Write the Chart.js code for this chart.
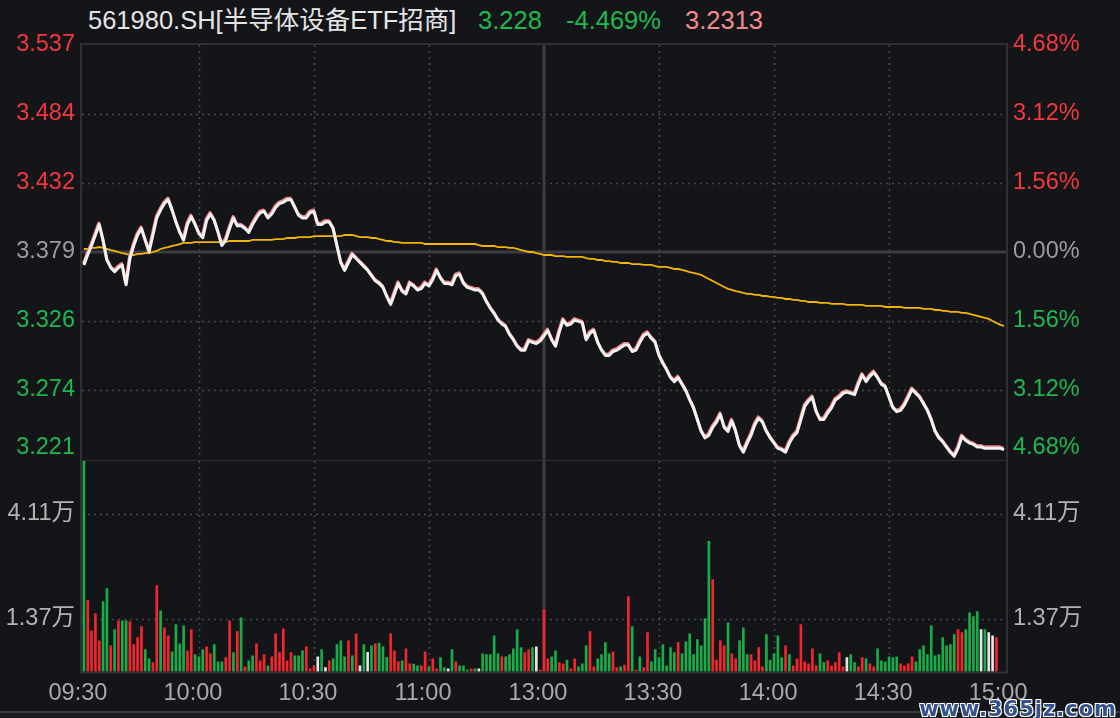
<!DOCTYPE html>
<html><head><meta charset="utf-8">
<script src="https://cdn.jsdelivr.net/npm/chart.js@4.4.1/dist/chart.umd.min.js"></script>
<style>
html,body{margin:0;padding:0;background:#141519;}
#wrap{position:relative;width:1120px;height:718px;overflow:hidden;background:#141519;font-family:'Liberation Sans','Noto Sans CJK SC',sans-serif;}
.hd{position:absolute;top:8px;font-size:25.5px;line-height:25px;white-space:nowrap;}
#cP{position:absolute;left:0;top:0;}
#cV{position:absolute;left:0;top:460px;}
#wm{position:absolute;right:3px;top:697px;font:bold 21px 'DejaVu Sans',sans-serif;letter-spacing:1px;color:#33528c;text-shadow:-1px -1px 0 #fff,1px -1px 0 #fff,-1px 1px 0 #fff,1px 1px 0 #fff;z-index:3;}
</style></head><body>
<div id="wrap">
<div class="hd" style="left:88px;color:#e4e4e4">561980.SH[半导体设备ETF招商]</div>
<div class="hd" style="left:478px;color:#1fb84f">3.228</div>
<div class="hd" style="left:566px;color:#1fb84f">-4.469%</div>
<div class="hd" style="left:685px;color:#f28c8c">3.2313</div>
<div style="position:absolute;left:0;top:711px;width:1120px;height:2px;background:#3a3b3f"></div>
<div style="position:absolute;left:0;top:713px;width:1120px;height:5px;background:#1a1b1f"></div>
<canvas id="cP" width="1120" height="460"></canvas>
<canvas id="cV" width="1120" height="258"></canvas>
<div id="wm">www.365jz.com</div>
</div>
<script>
// ---------- data ----------
const prevClose = 3.379;
const limitPct = 0.0468;
const priceTickLabels = ['3.221','3.274','3.326','3.379','3.432','3.484','3.537'];
const pctTickLabels = ['4.68%','3.12%','1.56%','0.00%','1.56%','3.12%','4.68%'];
const volTickValues = [1.37, 4.11];
const volTickLabels = ['1.37万','4.11万'];
const volMax = 5.48;
const xTickIndex = [0,30,60,90,120,150,180,210,240];
const xTickLabels = ['09:30','10:00','10:30','11:00','13:00','13:30','14:00','14:30','15:00'];

const price = [
3.369,3.377,3.384,3.392,3.400,3.388,3.373,3.367,3.364,3.367,
3.369,3.354,3.374,3.384,3.392,3.397,3.388,3.379,3.392,3.405,
3.411,3.416,3.419,3.411,3.402,3.394,3.388,3.400,3.406,3.400,
3.393,3.390,3.403,3.408,3.403,3.394,3.384,3.388,3.397,3.405,
3.399,3.399,3.397,3.394,3.400,3.405,3.409,3.410,3.405,3.408,
3.413,3.416,3.417,3.419,3.419,3.413,3.407,3.405,3.405,3.409,
3.410,3.400,3.400,3.402,3.402,3.397,3.384,3.371,3.365,3.371,
3.377,3.374,3.371,3.368,3.365,3.361,3.357,3.355,3.352,3.345,
3.339,3.347,3.355,3.349,3.347,3.355,3.353,3.350,3.351,3.355,
3.353,3.358,3.365,3.359,3.355,3.355,3.354,3.361,3.362,3.355,
3.352,3.351,3.350,3.350,3.347,3.341,3.336,3.332,3.327,3.324,
3.322,3.316,3.312,3.307,3.304,3.304,3.311,3.310,3.309,3.311,
3.315,3.319,3.312,3.307,3.318,3.327,3.323,3.324,3.327,3.326,
3.325,3.312,3.317,3.319,3.310,3.304,3.300,3.300,3.303,3.304,
3.306,3.308,3.308,3.303,3.304,3.310,3.315,3.317,3.313,3.310,
3.300,3.294,3.289,3.283,3.280,3.283,3.278,3.273,3.266,3.260,
3.251,3.242,3.237,3.239,3.245,3.249,3.255,3.245,3.242,3.250,
3.242,3.231,3.226,3.233,3.239,3.247,3.252,3.249,3.242,3.237,
3.233,3.229,3.228,3.226,3.233,3.238,3.241,3.251,3.261,3.265,
3.268,3.257,3.251,3.251,3.256,3.260,3.266,3.268,3.271,3.272,
3.271,3.270,3.278,3.285,3.280,3.284,3.287,3.283,3.278,3.276,
3.268,3.260,3.257,3.258,3.262,3.268,3.274,3.271,3.268,3.263,
3.258,3.251,3.242,3.237,3.234,3.230,3.226,3.223,3.229,3.238,
3.235,3.233,3.232,3.230,3.230,3.229,3.229,3.229,3.229,3.229,
3.228];

const avgPrice = [
3.3813,3.3813,3.3821,3.3821,3.3828,3.3821,3.3813,3.3805,3.3798,3.3790,
3.3782,3.3775,3.3767,3.3767,3.3775,3.3775,3.3782,3.3782,3.3790,3.3798,
3.3813,3.3821,3.3828,3.3836,3.3843,3.3851,3.3859,3.3859,3.3859,3.3866,
3.3866,3.3866,3.3866,3.3866,3.3866,3.3866,3.3866,3.3866,3.3874,3.3874,
3.3874,3.3874,3.3874,3.3874,3.3882,3.3882,3.3882,3.3882,3.3882,3.3882,
3.3889,3.3889,3.3889,3.3897,3.3897,3.3897,3.3904,3.3904,3.3904,3.3904,
3.3912,3.3912,3.3912,3.3912,3.3912,3.3912,3.3912,3.3912,3.3920,3.3920,
3.3920,3.3912,3.3904,3.3904,3.3904,3.3897,3.3897,3.3889,3.3882,3.3874,
3.3874,3.3866,3.3866,3.3859,3.3859,3.3859,3.3859,3.3859,3.3859,3.3851,
3.3851,3.3851,3.3851,3.3851,3.3851,3.3851,3.3851,3.3851,3.3851,3.3851,
3.3851,3.3851,3.3851,3.3843,3.3836,3.3836,3.3836,3.3836,3.3828,3.3828,
3.3828,3.3821,3.3821,3.3813,3.3805,3.3798,3.3790,3.3790,3.3782,3.3775,
3.3767,3.3767,3.3767,3.3759,3.3759,3.3759,3.3752,3.3752,3.3752,3.3752,
3.3752,3.3744,3.3737,3.3737,3.3729,3.3729,3.3721,3.3721,3.3714,3.3714,
3.3706,3.3706,3.3706,3.3698,3.3698,3.3698,3.3691,3.3691,3.3691,3.3683,
3.3676,3.3676,3.3676,3.3668,3.3660,3.3660,3.3653,3.3645,3.3637,3.3630,
3.3622,3.3615,3.3599,3.3584,3.3569,3.3553,3.3538,3.3523,3.3508,3.3500,
3.3492,3.3485,3.3477,3.3470,3.3470,3.3462,3.3462,3.3454,3.3454,3.3447,
3.3447,3.3439,3.3439,3.3431,3.3431,3.3424,3.3424,3.3416,3.3416,3.3408,
3.3408,3.3408,3.3401,3.3401,3.3401,3.3393,3.3393,3.3393,3.3393,3.3386,
3.3386,3.3386,3.3386,3.3386,3.3378,3.3378,3.3378,3.3378,3.3378,3.3370,
3.3370,3.3370,3.3370,3.3370,3.3363,3.3363,3.3363,3.3363,3.3363,3.3355,
3.3355,3.3355,3.3347,3.3347,3.3340,3.3340,3.3332,3.3332,3.3332,3.3325,
3.3325,3.3317,3.3309,3.3302,3.3294,3.3286,3.3279,3.3263,3.3248,3.3233,
3.3225];

// volume in 万 (10k)
const volume = [
5.48,1.85,1.06,1.51,0.80,1.82,2.16,0.67,1.09,1.32,
1.32,1.32,1.30,0.70,0.88,1.17,0.57,0.33,0.23,2.24,
1.58,1.14,0.93,0.51,1.22,0.72,1.19,0.54,1.09,0.44,
0.38,0.57,0.64,0.46,0.70,0.25,0.25,0.36,1.32,0.49,
1.04,1.40,0.12,0.28,0.41,0.72,0.28,0.44,0.15,0.38,
0.98,0.49,1.11,0.28,0.49,0.41,0.41,0.54,0.64,0.07,
0.15,0.38,0.57,0.10,0.28,0.33,0.70,0.80,0.38,0.80,
0.41,0.98,0.15,0.70,0.50,0.67,0.72,0.74,0.64,0.37,
0.98,0.54,0.25,0.28,0.59,0.20,0.19,0.15,0.15,0.51,
0.12,0.33,0.07,0.36,0.10,0.07,0.57,0.25,0.15,0.15,
0.04,0.07,0.07,0.07,0.46,0.44,0.44,0.93,0.46,0.38,
0.38,0.44,0.59,1.09,0.62,0.49,0.57,0.62,0.64,0.04,
1.61,0.33,0.38,0.54,0.23,0.20,0.30,0.07,0.33,0.12,
0.20,0.67,1.04,0.12,0.33,0.44,0.75,0.46,0.51,0.10,
0.12,0.17,1.95,1.17,0.04,0.38,0.10,1.01,0.25,0.57,
0.36,0.70,0.15,0.62,0.49,0.75,0.46,0.77,0.98,0.44,
0.83,0.67,1.38,3.39,2.39,0.30,0.80,0.67,1.27,0.46,
0.33,0.80,1.14,0.44,0.44,0.28,0.62,0.12,0.96,0.30,
0.46,0.93,0.36,0.67,0.44,0.15,0.33,1.22,0.25,0.20,
0.59,0.15,0.46,0.23,0.28,0.15,0.23,0.49,0.12,0.36,
0.44,0.23,0.12,0.36,0.33,0.20,0.12,0.59,0.28,0.25,
0.38,0.36,0.38,0.20,0.15,0.20,0.38,0.25,0.57,0.67,
0.44,1.19,0.41,0.44,0.88,0.67,0.70,0.96,1.09,1.01,
1.09,1.53,1.43,1.56,1.09,1.09,1.01,0.93,0.88,null,
null];
// 1 = up (red), -1 = down (green), 0 = flat (white)
const volDir = [
-1,1,1,1,1,-1,-1,1,-1,1,
-1,-1,1,1,1,1,-1,-1,1,1,
-1,1,1,-1,-1,-1,-1,1,1,-1,
-1,-1,1,1,-1,-1,-1,1,1,-1,
1,-1,1,-1,-1,1,1,1,-1,1,
1,1,1,1,1,-1,-1,-1,1,1,
1,0,-1,0,1,-1,-1,-1,-1,1,
-1,1,0,-1,0,-1,1,-1,-1,-1,
1,1,1,-1,1,1,-1,-1,1,1,
-1,1,1,-1,-1,0,-1,1,-1,-1,
-1,1,-1,0,-1,-1,-1,-1,-1,1,
-1,-1,-1,-1,-1,1,1,-1,0,1,
1,1,-1,-1,1,1,-1,1,1,-1,
-1,-1,1,1,-1,-1,-1,-1,1,1,
-1,1,1,-1,1,-1,1,1,-1,-1,
-1,-1,-1,-1,-1,1,-1,-1,-1,-1,
-1,-1,-1,-1,1,1,1,1,-1,1,
1,-1,-1,-1,1,1,1,1,-1,-1,
-1,-1,-1,1,-1,1,1,1,1,1,
1,1,-1,-1,1,1,1,1,1,0,
-1,-1,1,1,-1,1,1,-1,-1,-1,
-1,-1,-1,1,1,1,1,-1,-1,-1,
-1,-1,-1,-1,-1,-1,-1,-1,1,1,
-1,-1,-1,-1,0,-1,0,0,1,0,
0];

// minute labels (category axis)
const minutes = [];
for (let h = 9, m = 30; minutes.length < 241; ) {
  minutes.push(String(h).padStart(2,'0') + ':' + String(m).padStart(2,'0'));
  if (h === 11 && m === 30) { h = 13; m = 1; continue; }
  m++; if (m === 60) { m = 0; h++; }
}

// ---------- style ----------
const RED = '#f5383d', GREEN = '#1fb84f', GRAY = '#9c9c9c';
const BAR_RED = '#f2262c', BAR_GREEN = '#17ad48', BAR_WHITE = '#e6e6e6';
const FONT = "'Liberation Sans','Noto Sans CJK SC',sans-serif";
const tickColors = [GREEN, GREEN, GREEN, GRAY, RED, RED, RED];
const priceTickVals = [-3,-2,-1,0,1,2,3].map(k => prevClose * (1 + k * limitPct / 3));
const yMin = prevClose * (1 - limitPct), yMax = prevClose * (1 + limitPct);
const vGrid = [30,60,90,150,180,210];
const sessionBreak = 120;

function line(ctx, x1, y1, x2, y2) { ctx.beginPath(); ctx.moveTo(x1, y1); ctx.lineTo(x2, y2); ctx.stroke(); }
function fixW(w) { return s => { s.width = w; s.paddingTop = 0; s.paddingBottom = 0; }; }

const gridP = {
  id: 'gridP',
  beforeDatasetsDraw(chart) {
    const { ctx, chartArea: a, scales: { x, y } } = chart;
    ctx.save();
    ctx.strokeStyle = '#46474d'; ctx.lineWidth = 1.5; ctx.setLineDash([2, 4]);
    priceTickVals.forEach((v, i) => {
      if (i === 0 || i === 3 || i === 6) return;
      const py = Math.round(y.getPixelForValue(v)) + 0.5;
      line(ctx, a.left, py, a.right, py);
    });
    vGrid.forEach(i => {
      const px = Math.round(x.getPixelForValue(i)) + 0.5;
      line(ctx, px, a.top, px, a.bottom);
    });
    ctx.setLineDash([]);
    ctx.strokeStyle = '#3c3d43'; ctx.lineWidth = 3;
    const pc = y.getPixelForValue(prevClose);
    line(ctx, a.left, pc, a.right, pc);
    const sb = x.getPixelForValue(sessionBreak);
    line(ctx, sb, a.top - 1, sb, chart.height);
    ctx.strokeStyle = '#2f3035'; ctx.lineWidth = 2;
    line(ctx, a.left - 1, a.top - 1, a.right + 1, a.top - 1);
    line(ctx, a.left - 1, a.top - 2, a.left - 1, chart.height);
    line(ctx, a.right + 1, a.top - 2, a.right + 1, chart.height);
    ctx.restore();
  },
  beforeDatasetDraw(chart, args) {
    if (args.index === 1) { chart.ctx.save(); chart.ctx.translate(-0.5, -1.5); }
  },
  afterDatasetDraw(chart, args) {
    if (args.index === 1) chart.ctx.restore();
  }
};

const gridV = {
  id: 'gridV',
  beforeDatasetsDraw(chart) {
    const { ctx, chartArea: a, scales: { x, yV } } = chart;
    ctx.save();
    ctx.strokeStyle = '#46474d'; ctx.lineWidth = 1.5; ctx.setLineDash([2, 4]);
    volTickValues.forEach(v => {
      const py = Math.round(yV.getPixelForValue(v)) + 0.5;
      line(ctx, a.left, py, a.right, py);
    });
    vGrid.forEach(i => {
      const px = Math.round(x.getPixelForValue(i)) + 0.5;
      line(ctx, px, a.top, px, a.bottom);
    });
    ctx.setLineDash([]);
    ctx.strokeStyle = '#3c3d43'; ctx.lineWidth = 3;
    const sb = x.getPixelForValue(sessionBreak);
    line(ctx, sb, 0, sb, a.bottom);
    ctx.strokeStyle = '#2f3035'; ctx.lineWidth = 2;
    line(ctx, a.left - 1, 0, a.right + 1, 0);
    line(ctx, a.left - 1, a.bottom + 1, a.right + 1, a.bottom + 1);
    line(ctx, a.left - 1, 0, a.left - 1, a.bottom + 2);
    line(ctx, a.right + 1, 0, a.right + 1, a.bottom + 2);
    ctx.restore();
  }
};

Chart.defaults.font.family = FONT;

const baseY = (pos, width) => ({
  type: 'linear', position: pos, min: yMin, max: yMax,
  afterBuildTicks: s => { s.ticks = priceTickVals.map(v => ({ value: v })); },
  afterFit: fixW(width),
  grid: { display: false, drawTicks: false }, border: { display: false },
});

new Chart(document.getElementById('cP'), {
  type: 'line',
  data: {
    labels: minutes,
    datasets: [
      { data: price, borderColor: '#f2f2f2', borderWidth: 3, pointRadius: 0, tension: 0, order: 0, borderJoinStyle: 'round' },
      { data: price, borderColor: '#f07e7e', borderWidth: 3, pointRadius: 0, tension: 0, order: 1, borderJoinStyle: 'round' },
      { data: avgPrice, borderColor: '#f5b400', borderWidth: 1.8, pointRadius: 0, tension: 0, order: 2 }
    ]
  },
  options: {
    responsive: false, animation: false, events: [],
    layout: { padding: { top: 45, bottom: 1, left: 0, right: 0 } },
    plugins: { legend: { display: false }, tooltip: { enabled: false } },
    scales: {
      x: { type: 'category', display: false, offset: true },
      y: Object.assign(baseY('left', 82), {
        ticks: { padding: 7, autoSkip: false, color: c => tickColors[c.index], font: { size: 23.5, lineHeight: 1 },
          callback: (v, i) => i === 0 ? [priceTickLabels[i], ''] : priceTickLabels[i] }
      }),
      yR: Object.assign(baseY('right', 114), {
        ticks: { padding: 7, autoSkip: false, color: c => tickColors[c.index], font: { size: 23.5, lineHeight: 1 },
          callback: (v, i) => i === 0 ? [pctTickLabels[i], ''] : pctTickLabels[i] }
      })
    }
  },
  plugins: [gridP]
});

new Chart(document.getElementById('cV'), {
  type: 'bar',
  data: {
    labels: minutes,
    datasets: [{
      data: volume, yAxisID: 'yV',
      backgroundColor: volDir.map(d => d > 0 ? BAR_RED : d < 0 ? BAR_GREEN : BAR_WHITE),
      barThickness: 2, borderWidth: 0
    }]
  },
  options: {
    responsive: false, animation: false, events: [],
    layout: { padding: { top: 1, bottom: 0, left: 0, right: 0 } },
    plugins: { legend: { display: false }, tooltip: { enabled: false } },
    scales: {
      x: {
        type: 'category', offset: true,
        grid: { display: false, drawTicks: false }, border: { display: false },
        afterBuildTicks: s => { s.ticks = xTickIndex.map(i => ({ value: i })); },
        afterFit: s => { s.height = 46.5; s.paddingLeft = 0; s.paddingRight = 0; },
        ticks: { autoSkip: false, maxRotation: 0, padding: 8, labelOffset: -6, color: '#a9a9a9',
          font: { size: 23.5 }, callback: (v, i) => xTickLabels[i] }
      },
      yV: {
        type: 'linear', position: 'left', min: 0, max: volMax,
        afterBuildTicks: s => { s.ticks = volTickValues.map(v => ({ value: v })); },
        afterFit: fixW(82),
        grid: { display: false, drawTicks: false }, border: { display: false },
        ticks: { padding: 7, color: '#b2b2b2', font: { size: 23.5, lineHeight: 1 }, callback: (v, i) => volTickLabels[i] }
      },
      yVR: {
        type: 'linear', position: 'right', min: 0, max: volMax,
        afterBuildTicks: s => { s.ticks = volTickValues.map(v => ({ value: v })); },
        afterFit: fixW(114),
        grid: { display: false, drawTicks: false }, border: { display: false },
        ticks: { padding: 7, color: '#b2b2b2', font: { size: 23.5, lineHeight: 1 }, callback: (v, i) => volTickLabels[i] }
      }
    }
  },
  plugins: [gridV]
});
</script>
</body></html>
